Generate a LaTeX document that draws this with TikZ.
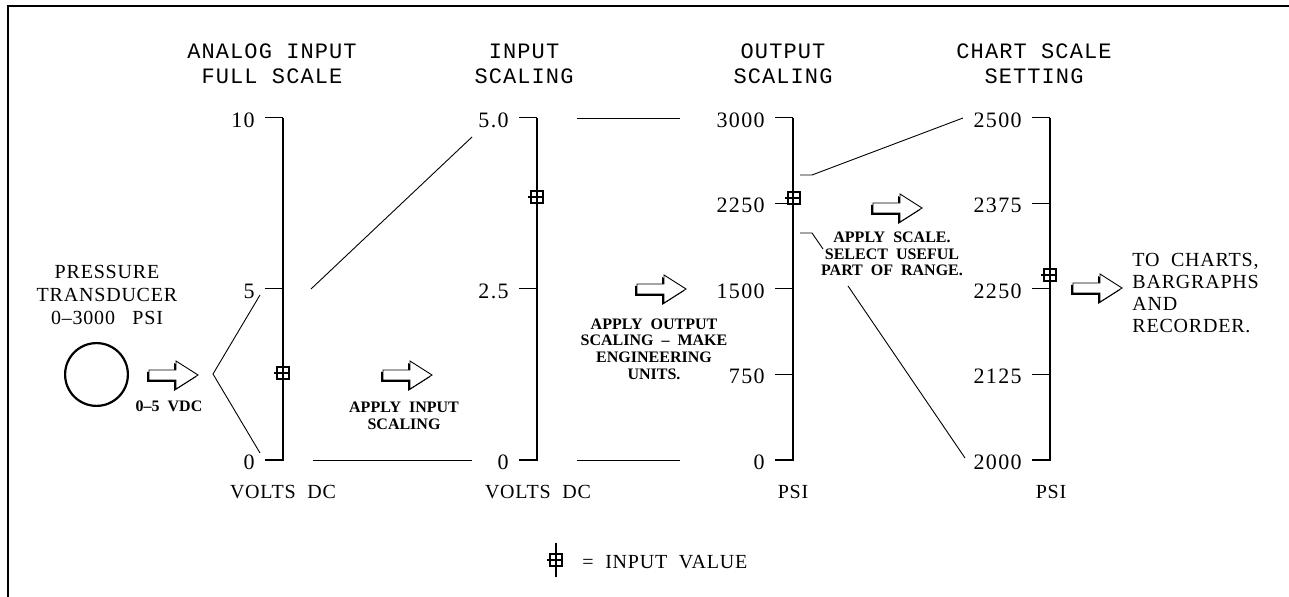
\documentclass[tikz,border=0pt]{standalone}
\usepackage{fontspec}
\setmainfont{Liberation Serif}
\newfontfamily\headfont[LetterSpace=5]{Liberation Mono}
\newfontfamily\labelfont[LetterSpace=4]{Liberation Serif}
\newfontfamily\tickfont[LetterSpace=6]{Liberation Serif}
\usepackage{tikz}
\usetikzlibrary{calc}

\tikzset{
	axisline/.style={line width=1.1pt},
	tickline/.style={line width=0.5pt},
	guide/.style={line width=0.45pt},
	head/.style={font=\headfont\fontsize{11}{12.5}\selectfont, align=center, inner sep=0pt},
	ticklabel/.style={font=\tickfont\fontsize{11}{12}\selectfont, anchor=east, inner sep=0pt},
	unitlabel/.style={font=\labelfont\fontsize{10}{11}\selectfont, inner sep=0pt},
	bigtext/.style={font=\labelfont\fontsize{10}{11.5}\selectfont, align=center, inner sep=0pt},
	note/.style={font=\bfseries\fontsize{8}{8.3}\selectfont, align=center, inner sep=0pt},
	hollowarrow/.pic={
		\fill[shift={(-2,2)}] (0,-5) -- (27,-5) -- (27,-14) -- (49,0) -- (27,14) -- (27,5) -- (0,5) -- cycle;
		\draw[fill=white, line width=0.45pt] (0,-5) -- (27,-5) -- (27,-14) -- (49,0) -- (27,14) -- (27,5) -- (0,5) -- cycle;
	},
	inputmark/.pic={
		\draw[line width=0.75pt] (-6,-6) rectangle (6,6);
		\draw[line width=0.75pt] (-9,0) -- (7,0);
	}
}

\begin{document}
\begin{tikzpicture}[x=0.5pt, y=-0.5pt]
	\useasboundingbox (0,0) rectangle (1289,597);
	\draw[line width=1.1pt] (8,597) -- (8,6) -- (1289,6);

	\node[head] (hdanalog) at (272,63.5) {ANALOG INPUT\\FULL SCALE};
	\node[head] (hdinput) at (524,63.5) {INPUT\\SCALING};
	\node[head] (hdoutput) at (783,63.5) {OUTPUT\\SCALING};
	\node[head] (hdchart) at (1034,63.5) {CHART SCALE\\SETTING};

	\foreach \ax in {283,537,793,1050}
		\draw[axisline] (\ax,118) -- (\ax,460) -- ++(-18,0);
	\foreach \ax/\ty/\val [count=\i] in {283/118/10, 283/289/5, 283/460/0,
		537/118/5.0, 537/289/2.5, 537/460/0,
		793/118/3000, 793/203.5/2250, 793/289/1500, 793/374.5/750, 793/460/0,
		1050/118/2500, 1050/203.5/2375, 1050/289/2250, 1050/374.5/2125, 1050/460/2000}{
		\draw[tickline] (\ax,\ty) -- ++(-18,0);
		\node[ticklabel] (val\i) at (\ax-28,\ty+2) {\val};
	}

	\node[unitlabel] (unitanalog) at (283,492) {VOLTS~~DC};
	\node[unitlabel] (unitinput) at (538,492) {VOLTS~~DC};
	\node[unitlabel] (unitoutput) at (793,492) {PSI};
	\node[unitlabel] (unitchart) at (1051,492) {PSI};

	\node[bigtext] (transducer) at (107,295) {PRESSURE\\TRANSDUCER\\0–3000~~~PSI};
	\node[draw, circle, line width=1.1pt, minimum size=31.4pt, inner sep=0pt] (sensor) at (96.5,374.5) {};
	\node[note] (vdc) at (169,406) {0–5~~VDC};

	\pic at (149,375) {hollowarrow};
	\pic at (383,375) {hollowarrow};
	\pic at (637,289) {hollowarrow};
	\pic at (873,208) {hollowarrow};
	\pic at (1073,288) {hollowarrow};

	\node[note] (inscale) at (404,415.5) {APPLY~~INPUT\\SCALING};
	\node[note] (outscale) at (654,349) {APPLY~~OUTPUT\\SCALING~~–~~MAKE\\ENGINEERING\\UNITS.};
	\node[note] (chartscale) at (892,254) {APPLY~~SCALE.\\SELECT~~USEFUL\\PART~~OF~~RANGE.};

	\draw[guide] (260,295) -- (213,374) -- (260,453);
	\draw[guide] (311,289) -- (472,137);
	\draw[guide] (313,460) -- (472,460);
	\draw[guide] (577,118) -- (680,118);
	\draw[guide] (577,460) -- (680,460);
	\draw[guide] (800,175) -- (812,175) -- (963,118);
	\draw[guide] (800,233) -- (812,233) -- (823,249);
	\draw[guide] (848,286) -- (965,458);

	\pic at (283,373) {inputmark};
	\pic at (537,197) {inputmark};
	\pic at (794,198) {inputmark};
	\pic at (1050,275) {inputmark};

	\node[bigtext, align=left, anchor=west, font=\labelfont\fontsize{10}{10.85}\selectfont] (dest) at (1132,293) {TO~~CHARTS,\\BARGRAPHS\\AND\\RECORDER.};

	\pic at (556,560) {inputmark};
	\draw[line width=0.75pt] (556,543) -- (556,577);
	\node[unitlabel, anchor=west] (legend) at (582,562) {=~~INPUT~~VALUE};
\end{tikzpicture}
\end{document}
